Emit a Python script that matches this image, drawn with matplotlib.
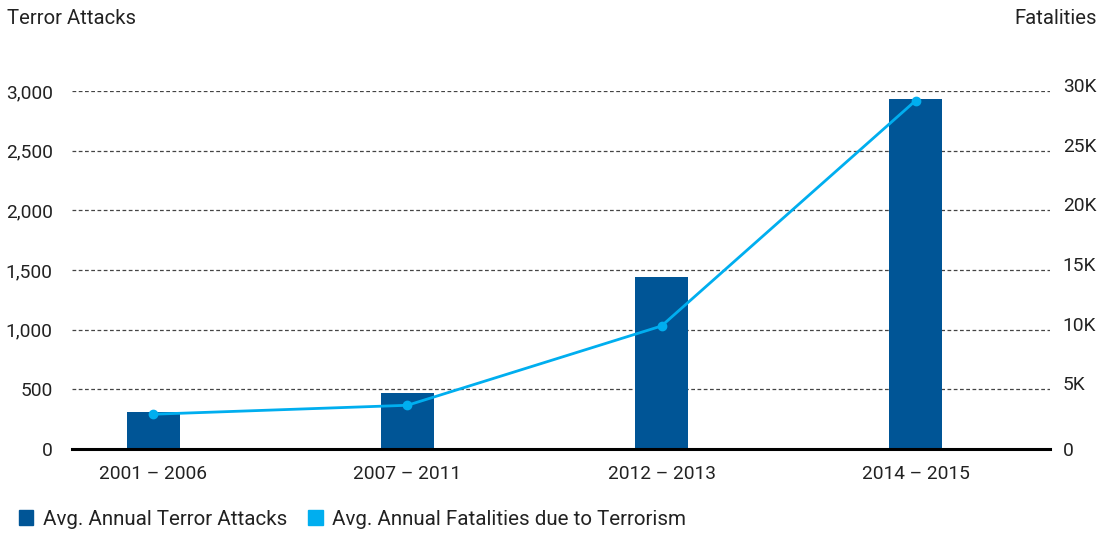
import numpy as np
import matplotlib.pyplot as plt
from matplotlib.patches import Patch
import matplotlib.transforms as mtransforms

plt.rcParams['font.family'] = ['Roboto', 'DejaVu Sans']

periods = ["2001 – 2006", "2007 – 2011", "2012 – 2013", "2014 – 2015"]
attacks = [310, 470, 1440, 2930]
fatalities = [2900, 3650, 10300, 29200]
left_ticks = [0, 500, 1000, 1500, 2000, 2500, 3000]
right_ticks = [0, 5000, 10000, 15000, 20000, 25000, 30000]
right_labels = ["0", "5K", "10K", "15K", "20K", "25K", "30K"]

bar_color = "#005596"
line_color = "#00AEEF"
text_color = "#222222"

fig = plt.figure(figsize=(11.09, 5.33), dpi=100)
ax = fig.add_axes([0.065, 0.158, 0.882, 0.671])
x = np.arange(len(periods))

ax.bar(x, attacks, width=0.21, color=bar_color, zorder=3)
ax.set_xlim(-0.32, 3.53)
ax.set_ylim(0, 3000)
ax.set_yticks(left_ticks)
ax.set_yticklabels([f"{v:,}" for v in left_ticks])
ax.set_xticks(x)
ax.set_xticklabels(periods)
ax.tick_params(length=0, labelsize=13.8, colors=text_color)
ax.tick_params(axis="y", pad=14)
ax.tick_params(axis="x", pad=12)
for v in left_ticks[1:]:
    ax.axhline(v, color="#444444", linestyle=(0, (3, 2)), linewidth=0.9, zorder=1)
for s in ["top", "right", "left"]:
    ax.spines[s].set_visible(False)
ax.spines["bottom"].set_linewidth(2.2)
ax.spines["bottom"].set_color("black")
ax.spines["bottom"].set_zorder(5)

ax2 = ax.twinx()
ax2.plot(x, fatalities, color=line_color, linewidth=2, marker="o", markersize=6, zorder=4)
ax2.set_ylim(0, 30000)
ax2.set_yticks(right_ticks)
ax2.set_yticklabels(right_labels)
ax2.tick_params(length=0, labelsize=13.8, colors=text_color, pad=9)
for s in ["top", "right", "left", "bottom"]:
    ax2.spines[s].set_visible(False)
offset = mtransforms.ScaledTranslation(0, 6 / 100, fig.dpi_scale_trans)
for lbl in ax2.get_yticklabels()[1:]:
    lbl.set_transform(lbl.get_transform() + offset)

fig.text(7 / 1109, 1 - 18 / 533, "Terror Attacks", fontsize=14.6, va="center", ha="left", color=text_color)
fig.text(1097 / 1109, 1 - 18 / 533, "Fatalities", fontsize=14.6, va="center", ha="right", color=text_color)

handles = [Patch(color=bar_color, label="Avg. Annual Terror Attacks"),
           Patch(color=line_color, label="Avg. Annual Fatalities due to Terrorism")]
fig.legend(handles=handles, loc="lower left", bbox_to_anchor=(0.0, -0.027), ncol=2,
           frameon=False, fontsize=14.8, handlelength=0.72, handleheight=0.72,
           handletextpad=0.45, columnspacing=1.05, labelcolor=text_color)

fig.savefig("out.png", dpi=100)
